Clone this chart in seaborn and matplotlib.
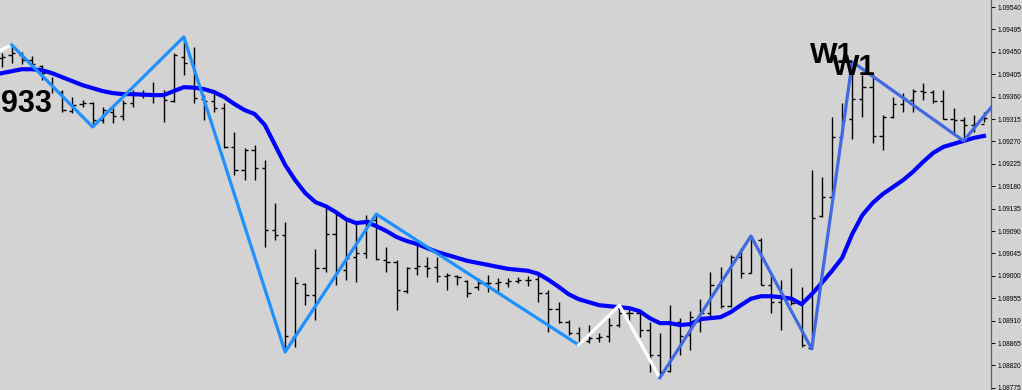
import matplotlib
matplotlib.use("Agg")
import matplotlib.pyplot as plt
import seaborn as sns
import pandas as pd
import numpy as np

# ---------------- data (prices) ----------------
bar_high = [1.09448, 1.09464, 1.09450, 1.09442, 1.09424, 1.09399, 1.09373, 1.09359, 1.09353, 1.09349,
            1.09339, 1.09337, 1.09353, 1.09373, 1.09373, 1.09389, 1.09373, 1.09448, 1.09480, 1.09460,
            1.09363, 1.09373, 1.09347, 1.09289, 1.09257, 1.09263, 1.09233, 1.09146, 1.09108, 1.08998,
            1.08986, 1.09054, 1.09142, 1.09132, 1.09116, 1.09106, 1.09122, 1.09124, 1.09058, 1.09032,
            1.09018, 1.09064, 1.09038, 1.09038, 1.09006, 1.09002, 1.08992, 1.08996, 1.09002, 1.08996,
            1.08996, 1.08998, 1.09000, 1.09006, 1.08972, 1.08947, 1.08911, 1.08897, 1.08901, 1.08885,
            1.08915, 1.08941, 1.08935, 1.08925, 1.08907, 1.08885, 1.08941, 1.08915, 1.08929, 1.08954,
            1.09008, 1.09018, 1.09042, 1.09056, 1.09080, 1.09076, 1.09002, 1.08992, 1.09016, 1.08978,
            1.09213, 1.09199, 1.09319, 1.09347, 1.09430, 1.09403, 1.09407, 1.09323, 1.09359, 1.09367,
            1.09375, 1.09387, 1.09373, 1.09373, 1.09337, 1.09319, 1.09323, 1.09329]
bar_low = [1.09419, 1.09428, 1.09426, 1.09415, 1.09393, 1.09367, 1.09329, 1.09327, 1.09339, 1.09299,
           1.09307, 1.09307, 1.09313, 1.09339, 1.09357, 1.09347, 1.09309, 1.09349, 1.09403, 1.09347,
           1.09313, 1.09329, 1.09257, 1.09203, 1.09192, 1.09192, 1.09058, 1.09072, 1.08847, 1.08857,
           1.08941, 1.08911, 1.09008, 1.08982, 1.08992, 1.08988, 1.09036, 1.09032, 1.09008, 1.08931,
           1.08965, 1.09002, 1.08998, 1.08988, 1.08972, 1.08982, 1.08957, 1.08972, 1.08967, 1.08967,
           1.08978, 1.08986, 1.08980, 1.08947, 1.08887, 1.08905, 1.08881, 1.08861, 1.08865, 1.08867,
           1.08867, 1.08897, 1.08901, 1.08877, 1.08807, 1.08795, 1.08807, 1.08841, 1.08851, 1.08887,
           1.08917, 1.08935, 1.08937, 1.08996, 1.09006, 1.08982, 1.08925, 1.08891, 1.08941, 1.08857,
           1.08853, 1.09118, 1.09156, 1.09279, 1.09275, 1.09319, 1.09267, 1.09253, 1.09317, 1.09329,
           1.09329, 1.09353, 1.09347, 1.09315, 1.09287, 1.09271, 1.09289, 1.09309]
bar_open = [1.09438, 1.09444, 1.09444, 1.09434, 1.09422, 1.09407, 1.09369, 1.09331, 1.09345, 1.09347,
            1.09313, 1.09329, 1.09321, 1.09347, 1.09363, 1.09365, 1.09363, 1.09351, 1.09440, 1.09428,
            1.09355, 1.09351, 1.09337, 1.09259, 1.09213, 1.09253, 1.09217, 1.09092, 1.09082, 1.08877,
            1.08984, 1.08961, 1.09016, 1.09084, 1.09012, 1.09038, 1.09046, 1.09112, 1.09032, 1.09028,
            1.08970, 1.09016, 1.09020, 1.09018, 1.09000, 1.09000, 1.08990, 1.08978, 1.08986, 1.08986,
            1.08986, 1.08990, 1.08992, 1.08994, 1.08965, 1.08933, 1.08907, 1.08885, 1.08869, 1.08875,
            1.08879, 1.08901, 1.08925, 1.08925, 1.08891, 1.08841, 1.08809, 1.08907, 1.08881, 1.08917,
            1.08925, 1.08982, 1.08939, 1.09038, 1.09006, 1.09072, 1.08982, 1.08947, 1.08955, 1.08945,
            1.08855, 1.09120, 1.09158, 1.09279, 1.09315, 1.09355, 1.09379, 1.09281, 1.09319, 1.09345,
            1.09353, 1.09371, 1.09369, 1.09351, 1.09315, 1.09313, 1.09303, 1.09305]
bar_close = [1.09440, 1.09448, 1.09434, 1.09426, 1.09407, 1.09377, 1.09333, 1.09343, 1.09347, 1.09313,
             1.09333, 1.09321, 1.09347, 1.09363, 1.09365, 1.09363, 1.09353, 1.09444, 1.09428, 1.09357,
             1.09351, 1.09337, 1.09259, 1.09213, 1.09253, 1.09217, 1.09092, 1.09082, 1.08879, 1.08986,
             1.08961, 1.09016, 1.09084, 1.09012, 1.09036, 1.09046, 1.09112, 1.09034, 1.09028, 1.08972,
             1.09016, 1.09020, 1.09016, 1.09000, 1.09002, 1.08998, 1.08965, 1.08986, 1.08986, 1.08988,
             1.08990, 1.08992, 1.08992, 1.08965, 1.08933, 1.08907, 1.08885, 1.08865, 1.08875, 1.08877,
             1.08901, 1.08925, 1.08925, 1.08891, 1.08841, 1.08807, 1.08905, 1.08879, 1.08917, 1.08925,
             1.08982, 1.08939, 1.09038, 1.09006, 1.09072, 1.08982, 1.08947, 1.08955, 1.08945, 1.08861,
             1.09116, 1.09158, 1.09279, 1.09313, 1.09355, 1.09379, 1.09281, 1.09319, 1.09345, 1.09357,
             1.09371, 1.09369, 1.09351, 1.09315, 1.09313, 1.09303, 1.09305, 1.09317]

ma_values = [1.09407, 1.09411, 1.09415, 1.09415, 1.09413, 1.09407, 1.09399, 1.09391, 1.09383, 1.09377,
             1.09371, 1.09367, 1.09365, 1.09365, 1.09364, 1.09363, 1.09363, 1.09371, 1.09379, 1.09378,
             1.09375, 1.09369, 1.09359, 1.09345, 1.09333, 1.09325, 1.09303, 1.09263, 1.09223, 1.09192,
             1.09166, 1.09148, 1.09140, 1.09128, 1.09114, 1.09106, 1.09108, 1.09100, 1.09090, 1.09078,
             1.09070, 1.09064, 1.09056, 1.09048, 1.09042, 1.09036, 1.09030, 1.09026, 1.09022, 1.09018,
             1.09014, 1.09012, 1.09010, 1.09004, 1.08992, 1.08978, 1.08963, 1.08953, 1.08947, 1.08941,
             1.08939, 1.08937, 1.08935, 1.08929, 1.08915, 1.08905, 1.08905, 1.08901, 1.08903, 1.08913,
             1.08915, 1.08917, 1.08927, 1.08941, 1.08954, 1.08959, 1.08959, 1.08957, 1.08954, 1.08943,
             1.08963, 1.08986, 1.09010, 1.09036, 1.09084, 1.09122, 1.09146, 1.09164, 1.09178, 1.09192,
             1.09209, 1.09229, 1.09247, 1.09259, 1.09265, 1.09271, 1.09277, 1.09281]

zz_white_a_idx = [-1, 1]
zz_white_a_px = [1.09444, 1.09464]
zz_blue_idx = [1, 9, 18, 28, 37, 57]
zz_blue_px = [1.09464, 1.09299, 1.09480, 1.08847, 1.09124, 1.08861]
zz_white_b_idx = [57, 61, 65]
zz_white_b_px = [1.08861, 1.08941, 1.08795]
zz_royal_idx = [65, 74, 80, 84, 95, 100]
zz_royal_px = [1.08795, 1.09080, 1.08853, 1.09430, 1.09271, 1.09395]

price_ticks = [1.08775, 1.08820, 1.08865, 1.08910, 1.08955, 1.09000, 1.09045, 1.09090,
               1.09135, 1.09180, 1.09225, 1.09270, 1.09315, 1.09360, 1.09405, 1.09450,
               1.09495, 1.09540]
label_left = "933"
label_w1 = "W1"

# ---------------- drawing ----------------
BG = "#D3D3D3"
fig = plt.figure(figsize=(10.22, 3.9), dpi=100, facecolor=BG)
ax = fig.add_axes([0, 0, 991 / 1022, 1])
ax.set_facecolor(BG)

idx = np.arange(len(bar_high))
ax.vlines(idx, bar_low, bar_high, color="black", lw=1.0, zorder=2)
ax.hlines(bar_open, idx - 0.32, idx, color="black", lw=1.0, zorder=2)
ax.hlines(bar_close, idx, idx + 0.32, color="black", lw=1.0, zorder=2)

ma_df = pd.DataFrame({"bar": idx, "ma": ma_values})
sns.lineplot(data=ma_df, x="bar", y="ma", ax=ax, color="#0000FF", lw=3.0,
             legend=False, estimator=None, sort=False, zorder=3)

for xs, ys, col in [(zz_white_a_idx, zz_white_a_px, "#FFFFFF"),
                    (zz_blue_idx, zz_blue_px, "#1E90FF"),
                    (zz_white_b_idx, zz_white_b_px, "#FFFFFF"),
                    (zz_royal_idx, zz_royal_px, "#4169E1")]:
    d = pd.DataFrame({"bar": xs, "p": ys})
    sns.lineplot(data=d, x="bar", y="p", ax=ax, color=col, lw=2.3,
                 legend=False, estimator=None, sort=False, zorder=4)

ax.set_xlim(-0.15, 97.7)
ax.set_ylim(1.087706, 1.095541)

ax.yaxis.tick_right()
ax.set_yticks(price_ticks)
ax.set_yticklabels([f"{v:.5f}" for v in price_ticks])
ax.tick_params(axis="y", direction="out", length=3, width=0.7, pad=1.5,
               labelsize=4.8, colors="black")
ax.set_xticks([])
ax.set_xlabel("")
ax.set_ylabel("")
for s in ["top", "bottom", "left"]:
    ax.spines[s].set_visible(False)
ax.spines["right"].set_color("#606060")
ax.spines["right"].set_linewidth(0.9)
for lab in ax.get_yticklabels():
    lab.set_family("Liberation Sans")

ax.text(1 / 991, 1 - 112 / 390, label_left, transform=ax.transAxes, ha="left",
        va="baseline", fontsize=22, fontweight="bold", family="Liberation Sans",
        color="black", zorder=5)
ax.text(810 / 991, 1 - 63 / 390, label_w1, transform=ax.transAxes, ha="left",
        va="baseline", fontsize=21, fontweight="bold", family="Liberation Sans",
        color="black", zorder=5)
ax.text(832 / 991, 1 - 75 / 390, label_w1, transform=ax.transAxes, ha="left",
        va="baseline", fontsize=21, fontweight="bold", family="Liberation Sans",
        color="black", zorder=5)

fig.savefig("out.png", dpi=100, facecolor=BG)
